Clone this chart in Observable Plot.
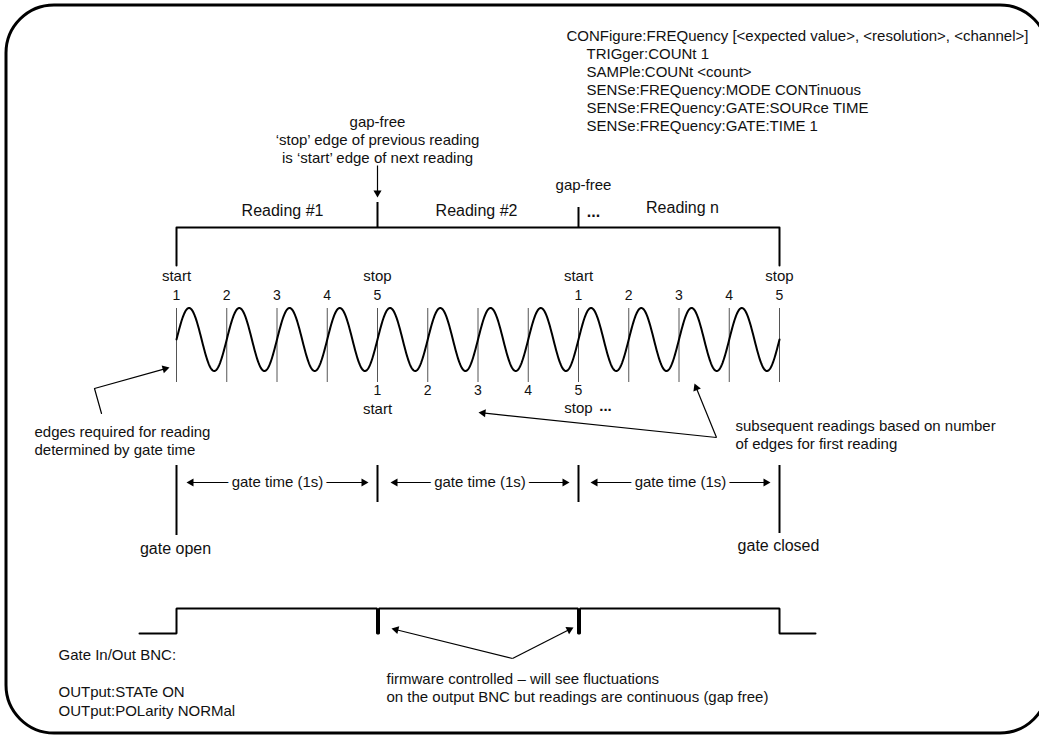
<!DOCTYPE html>
<html><head><meta charset="utf-8">
<script src="https://cdn.jsdelivr.net/npm/d3@7"></script>
<script src="https://cdn.jsdelivr.net/npm/@observablehq/plot@0.6"></script>
<style>html,body{margin:0;padding:0;background:#fff}</style>
</head><body><div id="chart"></div>
<script>
// ---- timeline (edges of the input signal) ----
const edgeOrigin = 176;      // first edge (gate open)
const edgePeriod = 50.25;    // one signal period
const edgeCount = 13;        // edges drawn
const waveMid = 339, waveAmp = 31.5;
const edgeIdx = d3.range(edgeCount);
const ex = i => edgeOrigin + i * edgePeriod;

// edge numbering
const topNumberEdges = [0, 1, 2, 3, 4, 8, 9, 10, 11, 12];
const topNumberLabels = ["1", "2", "3", "4", "5", "1", "2", "3", "4", "5"];
const bottomNumberEdges = [4, 5, 6, 7, 8];
const bottomNumberLabels = ["1", "2", "3", "4", "5"];
const topMarkerEdges = [0, 4, 8, 12];
const topMarkerLabels = ["start", "stop", "start", "stop"];

// readings bracket
const readingNames = ["Reading #1", "Reading #2", "Reading n"];
const readingLabelX = [282, 476, 682];

// gate spans
const gateLabel = "gate time (1s)";
const gateSpans = [[186, 368], [390, 569], [590, 770]];

// configuration text
const configLines = [
  "CONFigure:FREQuency [<expected value>, <resolution>, <channel>]",
  "TRIGger:COUNt 1",
  "SAMPle:COUNt <count>",
  "SENSe:FREQuency:MODE CONTinuous",
  "SENSe:FREQuency:GATE:SOURce TIME",
  "SENSe:FREQuency:GATE:TIME 1"
];
const gapFreeLines = ["gap-free", "\u2018stop\u2019 edge of previous reading", "is \u2018start\u2019 edge of next reading"];
const leftNoteLines = ["edges required for reading", "determined by gate time"];
const rightNoteLines = ["subsequent readings based on number", "of edges for first reading"];
const bncLines = ["Gate In/Out BNC:", "", "OUTput:STATe ON", "OUTput:POLarity NORMal"];
const firmwareLines = ["firmware controlled \u2013 will see fluctuations", "on the output BNC but readings are continuous (gap free)"];

// ---- build geometry tables ----
const border = [{x1: 6, x2: 1048, y1: 5, y2: 733}];

const wave = d3.range(0, 12 * edgePeriod + 0.25, 0.5).map(d => ({
  x: edgeOrigin + d,
  y: waveMid - waveAmp * Math.sin(2 * Math.PI * d / edgePeriod)
}));

const bracket = [
  {x: ex(0), y: 265}, {x: ex(0), y: 227}, {x: ex(12), y: 227}, {x: ex(12), y: 265}
];
const bracketTicks = [{x: ex(4), y1: 202, y2: 227}, {x: ex(8), y1: 207, y2: 227}];

const gateRules = [
  {x: ex(0), y1: 465, y2: 535},
  {x: ex(4), y1: 465, y2: 502},
  {x: ex(8), y1: 465, y2: 502},
  {x: ex(12), y1: 465, y2: 533}
];

const pulse = [
  {x: 139, y: 633}, {x: ex(0), y: 633}, {x: ex(0), y: 608},
  {x: ex(4) - 0.5, y: 608}, {x: ex(4) - 0.5, y: 633}, {x: ex(4) + 1.5, y: 633}, {x: ex(4) + 1.5, y: 608},
  {x: ex(8) - 0.5, y: 608}, {x: ex(8) - 0.5, y: 633}, {x: ex(8) + 1.5, y: 633}, {x: ex(8) + 1.5, y: 608},
  {x: ex(12), y: 608}, {x: ex(12), y: 633}, {x: 815, y: 633}
];

// arrows: from (x1,y1) to tip (x2,y2)
const arrows = [
  {x1: 377, y1: 165, x2: 377, y2: 197},
  {x1: 94, y1: 388, x2: 169, y2: 367},
  {x1: 716, y1: 437, x2: 694, y2: 383},
  {x1: 716, y1: 437, x2: 478, y2: 412},
  {x1: 512, y1: 658, x2: 391, y2: 628},
  {x1: 512, y1: 658, x2: 573, y2: 627}
];
gateSpans.forEach(([a, b]) => {
  const c = (a + b) / 2;
  arrows.push({x1: c, y1: 482, x2: a, y2: 482});
  arrows.push({x1: c, y1: 482, x2: b, y2: 482});
});
const leftPolyline = [{x: 101, y: 413}, {x: 94, y: 388}];

const headR = 3;
const headTip = 2 * Math.sqrt(headR * headR * Math.PI / (Math.sqrt(3) * 3));
const heads = arrows.map(a => {
  const dx = a.x2 - a.x1, dy = a.y2 - a.y1, L = Math.hypot(dx, dy);
  const ux = dx / L, uy = dy / L;
  return {x: a.x2 - ux * headTip, y: a.y2 - uy * headTip, rotate: Math.atan2(dx, -dy) * 180 / Math.PI};
});
const links = arrows.map(a => {
  const dx = a.x2 - a.x1, dy = a.y2 - a.y1, L = Math.hypot(dx, dy);
  return {x1: a.x1, y1: a.y1, x2: a.x2 - dx / L * 4, y2: a.y2 - dy / L * 4};
});

// text tables, grouped by anchor
const midTexts = [], startTexts = [], boldTexts = [];
const M = (x, y, text, size = 15) => midTexts.push({x, y, text, size});
const S = (x, y, text, size = 15) => startTexts.push({x, y, text, size});
configLines.forEach((t, i) => S(i === 0 ? 566 : 586, 36 + i * 18, t));
gapFreeLines.forEach((t, i) => M(377, 122 + i * 18, t));
readingNames.forEach((t, i) => M(readingLabelX[i], i === 2 ? 207 : 210, t, 16));
boldTexts.push({x: 593, y: 211, text: "...", size: 16});
M(583, 185, "gap-free");
topMarkerEdges.forEach((e, i) => M(ex(e), 276, topMarkerLabels[i]));
topNumberEdges.forEach((e, i) => M(ex(e), 295, topNumberLabels[i], 14));
bottomNumberEdges.forEach((e, i) => M(ex(e), 390, bottomNumberLabels[i], 14));
M(ex(4), 409, "start");
M(ex(8), 408, "stop");
boldTexts.push({x: 605, y: 406, text: "...", size: 15});
rightNoteLines.forEach((t, i) => S(735, 426 + i * 18, t));
leftNoteLines.forEach((t, i) => S(34, 432 + i * 18, t));
M(175, 548, "gate open", 16);
M(778, 545, "gate closed", 16);
bncLines.forEach((t, i) => { if (t) S(58, 655 + i * 18.5, t); });
firmwareLines.forEach((t, i) => S(386, 679 + i * 18, t));
const gateTexts = gateSpans.map(([a, b]) => ({x: (a + b) / 2, y: 482, text: gateLabel}));

const font = "'Liberation Sans', Arial, Helvetica, sans-serif";

const chart = Plot.plot({
  width: 1039,
  height: 737,
  margin: 0,
  x: {domain: [0, 1039], range: [0, 1039], axis: null},
  y: {domain: [0, 737], range: [0, 737], axis: null},
  style: {fontFamily: font, background: "#fff", color: "#000"},
  marks: [
    Plot.rect(border, {x1: "x1", x2: "x2", y1: "y1", y2: "y2", rx: 48, fill: "none", stroke: "#000", strokeWidth: 3}),
    Plot.ruleX(edgeIdx, {x: i => ex(i), y1: 308, y2: 382, stroke: "#555", strokeWidth: 1}),
    Plot.line(wave, {x: "x", y: "y", stroke: "#000", strokeWidth: 2}),
    Plot.line(bracket, {x: "x", y: "y", stroke: "#000", strokeWidth: 2}),
    Plot.ruleX(bracketTicks, {x: "x", y1: "y1", y2: "y2", stroke: "#000", strokeWidth: 2}),
    Plot.ruleX(gateRules, {x: "x", y1: "y1", y2: "y2", stroke: "#000", strokeWidth: 2}),
    Plot.line(pulse, {x: "x", y: "y", stroke: "#000", strokeWidth: 2, strokeLinejoin: "miter"}),
    Plot.line(leftPolyline, {x: "x", y: "y", stroke: "#000", strokeWidth: 1.2}),
    Plot.link(links, {x1: "x1", y1: "y1", x2: "x2", y2: "y2", stroke: "#000", strokeWidth: 1.2}),
    Plot.dot(heads, {x: "x", y: "y", rotate: "rotate", symbol: "triangle", r: headR, fill: "#000", stroke: "none"}),
    Plot.text(gateTexts, {x: "x", y: "y", text: "text", fontSize: 15, fill: "#111", stroke: "#fff", strokeWidth: 8, lineAnchor: "middle", textAnchor: "middle"}),
    Plot.text(midTexts, {x: "x", y: "y", text: "text", fontSize: "size", textAnchor: "middle", lineAnchor: "middle", fill: "#111"}),
    Plot.text(startTexts, {x: "x", y: "y", text: "text", fontSize: "size", textAnchor: "start", lineAnchor: "middle", fill: "#111"}),
    Plot.text(boldTexts, {x: "x", y: "y", text: "text", fontSize: "size", textAnchor: "middle", lineAnchor: "middle", fontWeight: "bold", fill: "#111"})
  ]
});
document.getElementById("chart").appendChild(chart);
</script>
</body></html>
